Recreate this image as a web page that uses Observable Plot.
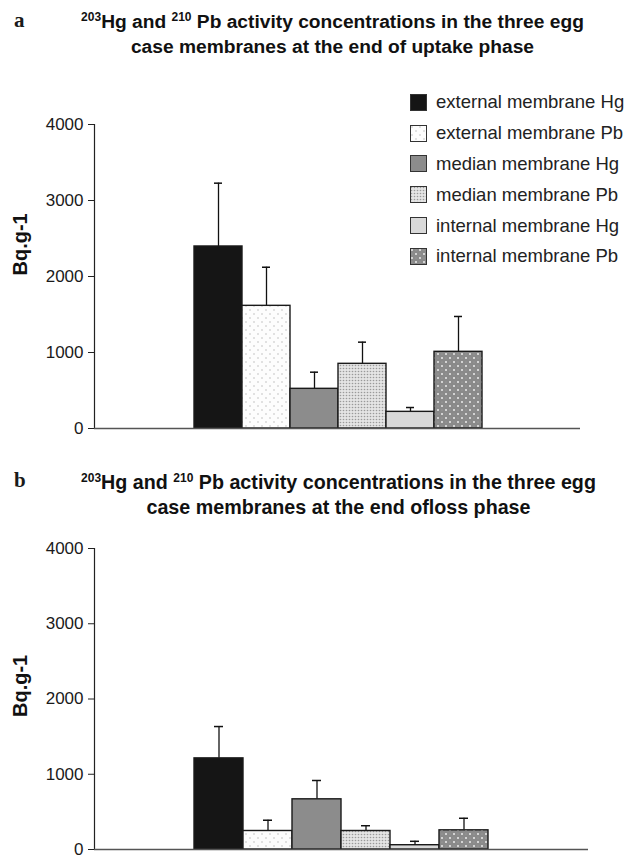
<!DOCTYPE html>
<html>
<head>
<meta charset="utf-8">
<script src="https://cdn.jsdelivr.net/npm/d3@7"></script>
<script src="https://cdn.jsdelivr.net/npm/@observablehq/plot@0.6"></script>
<style>
  html, body { margin: 0; padding: 0; background: #fff; }
  #root { position: relative; width: 629px; height: 859px; overflow: hidden; font-family: "Liberation Sans", Arial, sans-serif; color: #1a1a1a; }
  .panel-letter { position: absolute; font-family: "Liberation Serif", "Times New Roman", serif; font-weight: bold; font-size: 21px; }
  .title { position: absolute; font-weight: bold; font-size: 19.2px; text-align: center; line-height: 25px; white-space: nowrap; color: #111; }
  .title sup { font-size: 12px; vertical-align: 7px; line-height: 0; }
  .chart { position: absolute; left: 0; }
  .legend { position: absolute; left: 410px; top: 87px; font-size: 18.5px; color: #222; }
  .legend .row { height: 30.8px; display: flex; align-items: center; white-space: nowrap; }
  .legend svg { margin-right: 9px; }
</style>
</head>
<body>
<div id="root">
  <svg width="0" height="0" style="position:absolute">
    <defs>
      <pattern id="patExtPb" width="8" height="8" patternUnits="userSpaceOnUse">
        <rect width="8" height="8" fill="#fdfdfd"></rect>
        <circle cx="2" cy="2" r="0.8" fill="#bdbdbd"></circle>
        <circle cx="6" cy="6" r="0.8" fill="#bdbdbd"></circle>
      </pattern>
      <pattern id="patMedPb" width="3" height="3" patternUnits="userSpaceOnUse">
        <rect width="3" height="3" fill="#e4e4e4"></rect>
        <circle cx="1.5" cy="1.5" r="0.8" fill="#9a9a9a"></circle>
      </pattern>
      <pattern id="patIntPb" width="8" height="8" patternUnits="userSpaceOnUse">
        <rect width="8" height="8" fill="#8a8a8a"></rect>
        <circle cx="2" cy="2" r="1" fill="#ececec"></circle>
        <circle cx="6" cy="6" r="1" fill="#ececec"></circle>
        <circle cx="6" cy="2" r="0.6" fill="#a6a6a6"></circle>
        <circle cx="2" cy="6" r="0.6" fill="#a6a6a6"></circle>
      </pattern>
    </defs>
  </svg>

  <div class="panel-letter" style="left:14px; top:8px;">a</div>
  <div class="title" style="left:0; width:665px; top:9px;"><sup>203</sup>Hg and <sup>210</sup> Pb activity concentrations in the three egg<br>case membranes at the end of uptake phase</div>
  <div id="chartA" class="chart" style="top:100px;"></div>
  <div id="legend" class="legend"></div>

  <div class="panel-letter" style="left:14px; top:468px;">b</div>
  <div class="title" style="left:0; width:677px; top:470px; font-size:19.7px;"><sup>203</sup>Hg and <sup>210</sup> Pb activity concentrations in the three egg<br>case membranes at the end ofloss phase</div>
  <div id="chartB" class="chart" style="top:524px;"></div>
</div>
<script>
// ---- data ----
const series = [
  "external membrane Hg",
  "external membrane Pb",
  "median membrane Hg",
  "median membrane Pb",
  "internal membrane Hg",
  "internal membrane Pb"
];
const uptakeValues = [2395, 1614, 522, 851, 219, 1009];
const uptakeErrors = [833, 508, 219, 285, 57, 465];
const lossValues = [1211, 246, 667, 246, 57, 255];
const lossErrors = [423, 143, 250, 70, 52, 160];
const yTicks = [0, 1000, 2000, 3000, 4000];
const yLabel = "Bq.g-1";

// ---- styles ----
const fills = ["#151515", "url(#patExtPb)", "#8c8c8c", "url(#patMedPb)", "#d9d9d9", "url(#patIntPb)"];

function makeChart(values, errors, opts) {
  const data = series.map((s, i) => ({series: s, value: values[i], top: values[i] + errors[i]}));
  return Plot.plot({
    width: 629,
    height: opts.height,
    marginTop: opts.marginTop,
    marginBottom: opts.marginBottom,
    marginLeft: 94,
    marginRight: opts.marginRight,
    style: {fontFamily: "'Liberation Sans', Arial, sans-serif", fontSize: "17px", color: "#1a1a1a", background: "transparent"},
    x: {domain: series, range: opts.xRange, padding: 0, axis: null},
    y: {domain: [0, 4000], axis: null},
    color: {domain: series, range: fills},
    marks: [
      Plot.ruleX(data, {x: "series", y1: "value", y2: "top", stroke: "#111", strokeWidth: 1.3}),
      Plot.tickY(data, {x: "series", y: "top", stroke: "#111", strokeWidth: 1.5, insetLeft: opts.capInset, insetRight: opts.capInset}),
      Plot.barY(data, {x: "series", y: "value", fill: "series", stroke: "#1a1a1a", strokeWidth: 1.4}),
      Plot.axisY({ticks: yTicks, tickSize: 6, tickPadding: 5, tickFormat: d => String(d), label: null, stroke: "#222", fontSize: 17}),
      Plot.frame({anchor: "left", stroke: "#222", strokeWidth: 1.2}),
      Plot.ruleY([0], {stroke: "#555", strokeWidth: 1.3}),
      Plot.text([yLabel], {frameAnchor: "left", rotate: -90, dx: -74, dy: opts.labelDy, fontWeight: "bold", fontSize: 20, fill: "#111"})
    ]
  });
}

document.getElementById("chartA").appendChild(
  makeChart(uptakeValues, uptakeErrors, {height: 340, marginTop: 24, marginBottom: 12, marginRight: 49, xRange: [192, 483], capInset: 20, labelDy: -1})
);
document.getElementById("chartB").appendChild(
  makeChart(lossValues, lossErrors, {height: 335, marginTop: 24, marginBottom: 10, marginRight: 41, xRange: [192, 490], capInset: 20, labelDy: 18})
);

// ---- legend ----
const legend = document.getElementById("legend");
series.forEach((s, i) => {
  const row = document.createElement("div");
  row.className = "row";
  row.innerHTML = `<svg width="17" height="17"><rect x="0.5" y="0.5" width="16" height="16" fill="${fills[i]}" stroke="#333" stroke-width="1"></rect></svg><span>${s}</span>`;
  legend.appendChild(row);
});
</script>
</body>
</html>
